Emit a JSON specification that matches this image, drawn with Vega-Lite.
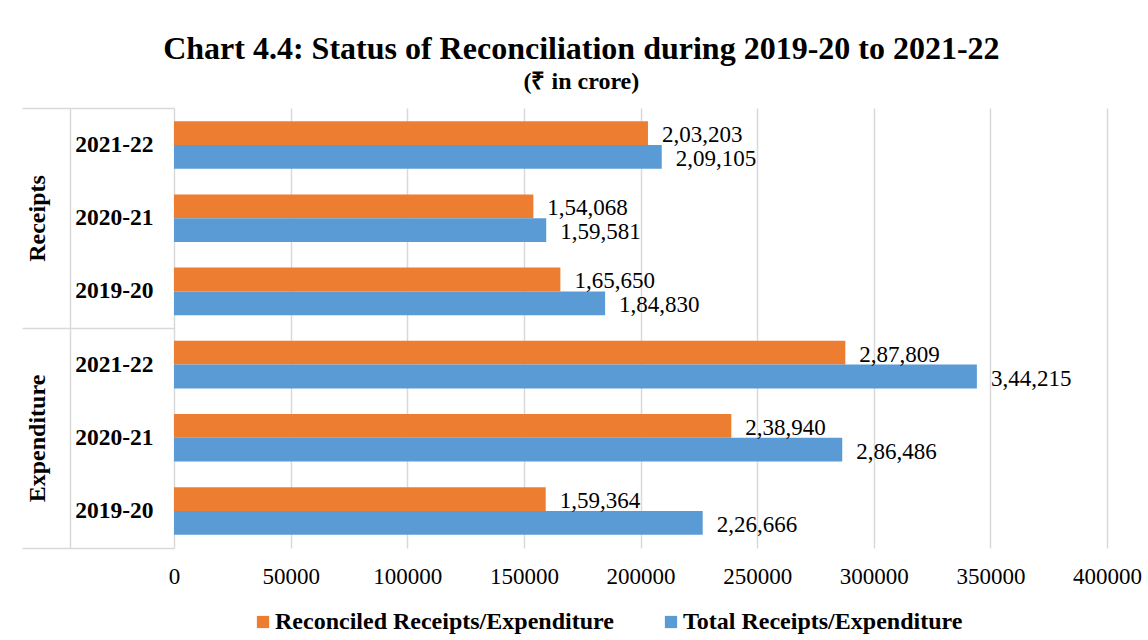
{
  "$schema": "https://vega.github.io/schema/vega-lite/v6.json",
  "width": 933,
  "height": 440,
  "autosize": {"type": "none"},
  "padding": {"left": 174, "top": 108, "right": 41, "bottom": 92},
  "background": "white",
  "title": {
    "text": "Chart 4.4: Status of Reconciliation during 2019-20 to 2021-22",
    "subtitle": "(₹ in crore)",
    "font": "Liberation Serif",
    "fontSize": 32,
    "fontWeight": "bold",
    "color": "black",
    "subtitleFont": "Liberation Serif",
    "subtitleFontSize": 24,
    "subtitleFontWeight": "bold",
    "subtitleColor": "black",
    "anchor": "middle",
    "frame": "bounds",
    "offset": 12,
    "subtitlePadding": 4
  },
  "data": {
    "values": [
      {"group": "Receipts", "year": "2021-22", "key": "Receipts|2021-22", "series": "Reconciled Receipts/Expenditure", "value": 203203, "label": "2,03,203"},
      {"group": "Receipts", "year": "2021-22", "key": "Receipts|2021-22", "series": "Total Receipts/Expenditure", "value": 209105, "label": "2,09,105"},
      {"group": "Receipts", "year": "2020-21", "key": "Receipts|2020-21", "series": "Reconciled Receipts/Expenditure", "value": 154068, "label": "1,54,068"},
      {"group": "Receipts", "year": "2020-21", "key": "Receipts|2020-21", "series": "Total Receipts/Expenditure", "value": 159581, "label": "1,59,581"},
      {"group": "Receipts", "year": "2019-20", "key": "Receipts|2019-20", "series": "Reconciled Receipts/Expenditure", "value": 165650, "label": "1,65,650"},
      {"group": "Receipts", "year": "2019-20", "key": "Receipts|2019-20", "series": "Total Receipts/Expenditure", "value": 184830, "label": "1,84,830"},
      {"group": "Expenditure", "year": "2021-22", "key": "Expenditure|2021-22", "series": "Reconciled Receipts/Expenditure", "value": 287809, "label": "2,87,809"},
      {"group": "Expenditure", "year": "2021-22", "key": "Expenditure|2021-22", "series": "Total Receipts/Expenditure", "value": 344215, "label": "3,44,215"},
      {"group": "Expenditure", "year": "2020-21", "key": "Expenditure|2020-21", "series": "Reconciled Receipts/Expenditure", "value": 238940, "label": "2,38,940"},
      {"group": "Expenditure", "year": "2020-21", "key": "Expenditure|2020-21", "series": "Total Receipts/Expenditure", "value": 286486, "label": "2,86,486"},
      {"group": "Expenditure", "year": "2019-20", "key": "Expenditure|2019-20", "series": "Reconciled Receipts/Expenditure", "value": 159364, "label": "1,59,364"},
      {"group": "Expenditure", "year": "2019-20", "key": "Expenditure|2019-20", "series": "Total Receipts/Expenditure", "value": 226666, "label": "2,26,666"}
    ]
  },
  "layer": [
    {
      "layer": [
        {
          "mark": {"type": "bar"},
          "encoding": {
            "y": {
              "field": "key",
              "type": "nominal",
              "sort": ["Receipts|2021-22", "Receipts|2020-21", "Receipts|2019-20", "Expenditure|2021-22", "Expenditure|2020-21", "Expenditure|2019-20"],
              "scale": {"paddingInner": 0.35, "paddingOuter": 0.18},
              "axis": {
                "title": null,
                "orient": "left",
                "offset": 104,
                "domain": true,
                "domainColor": "#D9D9D9",
                "domainWidth": 1.5,
                "ticks": false,
                "tickSize": 0,
                "grid": false,
                "labelPadding": -83,
                "labelAlign": "right",
                "labelBaseline": "middle",
                "labelFont": "Liberation Serif",
                "labelFontSize": 23.5,
                "labelFontWeight": "bold",
                "labelColor": "black",
                "labelExpr": "split(datum.label, '|')[1]"
              }
            },
            "yOffset": {
              "field": "series",
              "type": "nominal",
              "sort": ["Reconciled Receipts/Expenditure", "Total Receipts/Expenditure"],
              "scale": {"paddingInner": 0, "paddingOuter": 0}
            },
            "x": {
              "field": "value",
              "type": "quantitative",
              "scale": {"domain": [0, 400000], "nice": false},
              "axis": {
                "title": null,
                "domain": false,
                "ticks": false,
                "grid": true,
                "gridColor": "#D9D9D9",
                "gridWidth": 1.5,
                "values": [0, 50000, 100000, 150000, 200000, 250000, 300000, 350000, 400000],
                "format": "d",
                "labelFont": "Liberation Serif",
                "labelFontSize": 23,
                "labelColor": "black",
                "labelPadding": 17,
                "labelFlush": false,
                "labelOverlap": false
              }
            },
            "color": {
              "field": "series",
              "type": "nominal",
              "scale": {"domain": ["Reconciled Receipts/Expenditure", "Total Receipts/Expenditure"], "range": ["#ED7D31", "#5B9BD5"]},
              "legend": {
                "orient": "none",
                "legendX": 77,
                "legendY": 502,
                "direction": "horizontal",
                "title": null,
                "symbolType": "square",
                "symbolSize": 150,
                "symbolStrokeWidth": 0,
                "labelFont": "Liberation Serif",
                "labelFontSize": 24,
                "labelFontWeight": "bold",
                "labelColor": "black",
                "labelOffset": 0,
                "columnPadding": 45,
                "labelLimit": 500
              }
            }
          }
        },
        {
          "mark": {"type": "text", "align": "left", "baseline": "middle", "dx": 14, "dy": 2, "font": "Liberation Serif", "fontSize": 23, "color": "black"},
          "encoding": {
            "y": {
              "field": "key",
              "type": "nominal",
              "sort": ["Receipts|2021-22", "Receipts|2020-21", "Receipts|2019-20", "Expenditure|2021-22", "Expenditure|2020-21", "Expenditure|2019-20"]
            },
            "yOffset": {
              "field": "series",
              "type": "nominal",
              "sort": ["Reconciled Receipts/Expenditure", "Total Receipts/Expenditure"]
            },
            "x": {"field": "value", "type": "quantitative"},
            "text": {"field": "label"}
          }
        }
      ]
    },
    {
      "mark": {"type": "text", "text": ""},
      "encoding": {
        "y": {
          "field": "group",
          "type": "nominal",
          "sort": ["Receipts", "Expenditure"],
          "scale": {"paddingInner": 0, "paddingOuter": 0},
          "axis": {
            "title": null,
            "orient": "left",
            "offset": 0,
            "domain": false,
            "ticks": true,
            "tickBand": "extent",
            "tickSize": 152,
            "tickColor": "#D9D9D9",
            "tickWidth": 1.5,
            "grid": false,
            "labelAngle": 270,
            "labelAlign": "center",
            "labelBaseline": "middle",
            "labelPadding": -15,
            "labelFont": "Liberation Serif",
            "labelFontSize": 24,
            "labelFontWeight": "bold",
            "labelColor": "black"
          }
        }
      }
    }
  ],
  "resolve": {"scale": {"y": "independent"}, "axis": {"y": "independent"}},
  "config": {"view": {"stroke": null}, "font": "Liberation Serif"}
}
